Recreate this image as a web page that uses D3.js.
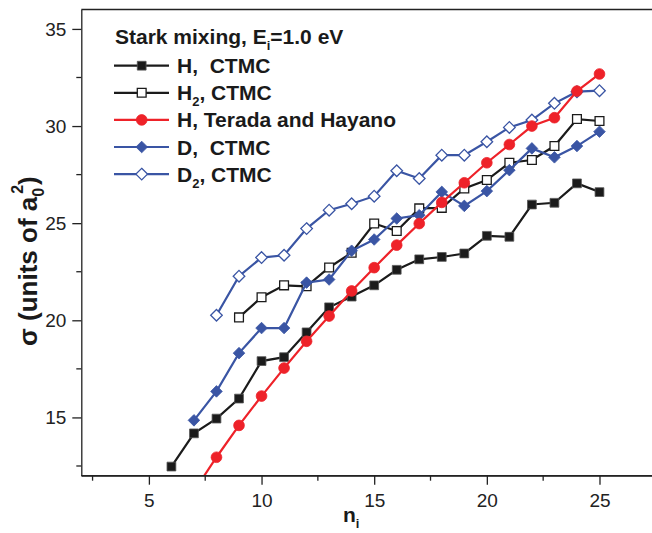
<!DOCTYPE html>
<html>
<head>
<meta charset="utf-8">
<script src="https://cdn.jsdelivr.net/npm/d3@7"></script>
<style>
  body { margin: 0; background: #fff; }
  svg { font-family: "Liberation Sans", Arial, sans-serif; }
  .tick text { font-size: 19px; fill: #222; }
  .axis path, .axis line { stroke: #222; stroke-width: 1.3px; }
  .legend text { font-size: 21px; font-weight: bold; fill: #1a1a1a; white-space: pre; }
</style>
</head>
<body>
<svg id="chart" width="652" height="533"></svg>
<script>
// values
var nH = [6, 7, 8, 9, 10, 11, 12, 13, 14, 15, 16, 17, 18, 19, 20, 21, 22, 23, 24, 25];
var sigmaH = [12.47, 14.18, 14.94, 15.97, 17.9, 18.1, 19.38, 20.67, 21.22, 21.8, 22.6, 23.14, 23.26, 23.44, 24.35, 24.3, 25.96, 26.05, 27.05, 26.6];

var nH2 = [9, 10, 11, 12, 13, 14, 15, 16, 17, 18, 19, 20, 21, 22, 23, 24, 25];
var sigmaH2 = [20.15, 21.19, 21.8, 21.75, 22.72, 23.48, 24.98, 24.6, 25.76, 25.79, 26.79, 27.22, 28.11, 28.25, 28.97, 30.36, 30.26];

var nTH = [7, 8, 9, 10, 11, 12, 13, 14, 15, 16, 17, 18, 19, 20, 21, 22, 23, 24, 25];
var sigmaTH = [11.2, 12.95, 14.59, 16.1, 17.54, 18.92, 20.22, 21.51, 22.71, 23.87, 24.98, 26.07, 27.08, 28.11, 29.05, 30.0, 30.43, 31.8, 32.68];

var nD = [7, 8, 9, 10, 11, 12, 13, 14, 15, 16, 17, 18, 19, 20, 21, 22, 23, 24, 25];
var sigmaD = [14.85, 16.34, 18.31, 19.6, 19.6, 21.94, 22.1, 23.58, 24.16, 25.24, 25.41, 26.61, 25.89, 26.65, 27.73, 28.85, 28.39, 28.97, 29.71];

var nD2 = [8, 9, 10, 11, 12, 13, 14, 15, 16, 17, 18, 19, 20, 21, 22, 23, 24, 25];
var sigmaD2 = [20.26, 22.27, 23.23, 23.35, 24.72, 25.67, 26.0, 26.39, 27.7, 27.3, 28.5, 28.5, 29.19, 29.93, 30.31, 31.17, 31.77, 31.82];

var xTicks = [5, 10, 15, 20, 25];
var xMinor = [2.5, 7.5, 12.5, 17.5, 22.5, 27.5];
var yTicks = [15, 20, 25, 30, 35];
var yMinor = [12.5, 17.5, 22.5, 27.5, 32.5];

var black = "#1b1b1b", red = "#ee2229", blue = "#3a55a4";

// series: legend order
var series = [
    { label: ["H", ",  CTMC"], sub: null, n: nH, s: sigmaH, color: black, shape: "square", fill: black },
    { label: ["H", ", CTMC"], sub: "2", n: nH2, s: sigmaH2, color: black, shape: "square", fill: "#fff" },
    { label: ["H, Terada and Hayano", ""], sub: null, n: nTH, s: sigmaTH, color: red, shape: "circle", fill: red },
    { label: ["D", ",  CTMC"], sub: null, n: nD, s: sigmaD, color: blue, shape: "diamond", fill: blue },
    { label: ["D", ", CTMC"], sub: "2", n: nD2, s: sigmaD2, color: blue, shape: "diamond", fill: "#fff" }
];
// drawing order (Terada on top)
var drawOrder = [0, 1, 3, 4, 2];

var svg = d3.select("#chart");
var plotLeft = 81.3, plotTop = 9.5, plotBottom = 475.7;

var x = d3.scaleLinear().domain([2, 28]).range([plotLeft, plotLeft + 26 * 22.53]);
var y = d3.scaleLinear().domain([12, 36]).range([plotBottom, plotTop]);

svg.append("clipPath").attr("id", "plotArea")
    .append("rect")
    .attr("x", plotLeft).attr("y", plotTop)
    .attr("width", 652 - plotLeft).attr("height", plotBottom - plotTop);

// marker path generator
function marker(shape) {
    if (shape == "square") return "M-4.4,-4.4h8.8v8.8h-8.8z";
    if (shape == "circle") return d3.symbol().type(d3.symbolCircle).size(90)();
    return "M0,-5.8L5.8,0L0,5.8L-5.8,0z";
}

function markerStroke(sr) {
    if (sr.fill == "#fff") return sr.color;
    return sr.shape == "square" ? "#555" : sr.color;
}

var line = d3.line()
    .x(function(d) { return x(d[0]); })
    .y(function(d) { return y(d[1]); });

var plot = svg.append("g").attr("clip-path", "url(#plotArea)");

drawOrder.forEach(function(i) {
    var sr = series[i];
    var pts = sr.n.map(function(n, k) { return [n, sr.s[k]]; });
    var g = plot.append("g");

    g.append("path")
        .attr("d", line(pts))
        .attr("fill", "none")
        .attr("stroke", sr.color)
        .attr("stroke-width", 2.2);

    g.selectAll("path.pt")
        .data(pts)
        .enter()
        .append("path")
        .attr("class", "pt")
        .attr("transform", function(d) { return "translate(" + x(d[0]) + "," + y(d[1]) + ")"; })
        .attr("d", marker(sr.shape))
        .attr("fill", sr.fill)
        .attr("stroke", markerStroke(sr))
        .attr("stroke-width", sr.fill == "#fff" ? 1.3 : 0.8);
});

//Axes
var xAxis = svg.append("g")
    .attr("class", "axis")
    .attr("transform", "translate(0," + plotBottom + ")")
    .call(d3.axisBottom(x).tickValues(xTicks).tickSize(9).tickSizeOuter(0).tickPadding(5));
xAxis.selectAll(".tick text").attr("dy", "0.9em");
xAxis.selectAll("line.minor")
    .data(xMinor)
    .enter()
    .append("line")
    .attr("class", "minor")
    .attr("x1", function(d) { return x(d); })
    .attr("x2", function(d) { return x(d); })
    .attr("y1", 0).attr("y2", 5);

var yAxis = svg.append("g")
    .attr("class", "axis")
    .attr("transform", "translate(" + plotLeft + ",0)")
    .call(d3.axisLeft(y).tickValues(yTicks).tickSize(9).tickSizeOuter(0).tickPadding(6));
yAxis.selectAll("line.minor")
    .data(yMinor)
    .enter()
    .append("line")
    .attr("class", "minor")
    .attr("y1", function(d) { return y(d); })
    .attr("y2", function(d) { return y(d); })
    .attr("x1", 0).attr("x2", -5);

// frame top and bottom edges (right edge is off the picture)
svg.append("line")
    .attr("x1", plotLeft).attr("x2", 652)
    .attr("y1", plotTop).attr("y2", plotTop)
    .attr("stroke", "#222").attr("stroke-width", 1.3);
svg.append("line")
    .attr("x1", plotLeft).attr("x2", 652)
    .attr("y1", plotBottom).attr("y2", plotBottom)
    .attr("stroke", "#222").attr("stroke-width", 1.3);

// axis titles
var xTitle = svg.append("text")
    .attr("x", 343).attr("y", 522)
    .attr("font-size", "21px").attr("font-weight", "bold").attr("fill", "#1a1a1a");
xTitle.append("tspan").text("n");
xTitle.append("tspan").attr("font-size", "13px").attr("dy", 6).text("i");

var yTitle = svg.append("text")
    .attr("transform", "translate(37,346) rotate(-90)")
    .attr("font-size", "26px").attr("font-weight", "bold").attr("fill", "#1a1a1a");
yTitle.append("tspan").text("σ (units of a");
yTitle.append("tspan").attr("font-size", "16px").attr("dy", 7).text("0");
yTitle.append("tspan").attr("font-size", "16px").attr("dx", -6).attr("dy", -21).text("2");
yTitle.append("tspan").attr("dy", 14).text(")");

// legend
var legend = svg.append("g").attr("class", "legend");
var lt = legend.append("text").attr("x", 115).attr("y", 44);
lt.append("tspan").text("Stark mixing, E");
lt.append("tspan").attr("font-size", "13px").attr("dy", 6).text("i");
lt.append("tspan").attr("dy", -6).text("=1.0 eV");

series.forEach(function(sr, i) {
    var cy = 65.7 + i * 27.1;
    var row = legend.append("g");
    row.append("line")
        .attr("x1", 114).attr("x2", 169)
        .attr("y1", cy).attr("y2", cy)
        .attr("stroke", sr.color).attr("stroke-width", 2.2);
    row.append("path")
        .attr("transform", "translate(141.7," + cy + ")")
        .attr("d", marker(sr.shape))
        .attr("fill", sr.fill)
        .attr("stroke", markerStroke(sr))
        .attr("stroke-width", sr.fill == "#fff" ? 1.3 : 0.8);
    var t = row.append("text").attr("x", 177).attr("y", cy + 7.5);
    t.append("tspan").text(sr.label[0]);
    if (sr.sub) {
        t.append("tspan").attr("font-size", "13px").attr("dy", 6).text(sr.sub);
        t.append("tspan").attr("dy", -6).text(sr.label[1]);
    } else {
        t.append("tspan").text(sr.label[1]);
    }
});
</script>
</body>
</html>
